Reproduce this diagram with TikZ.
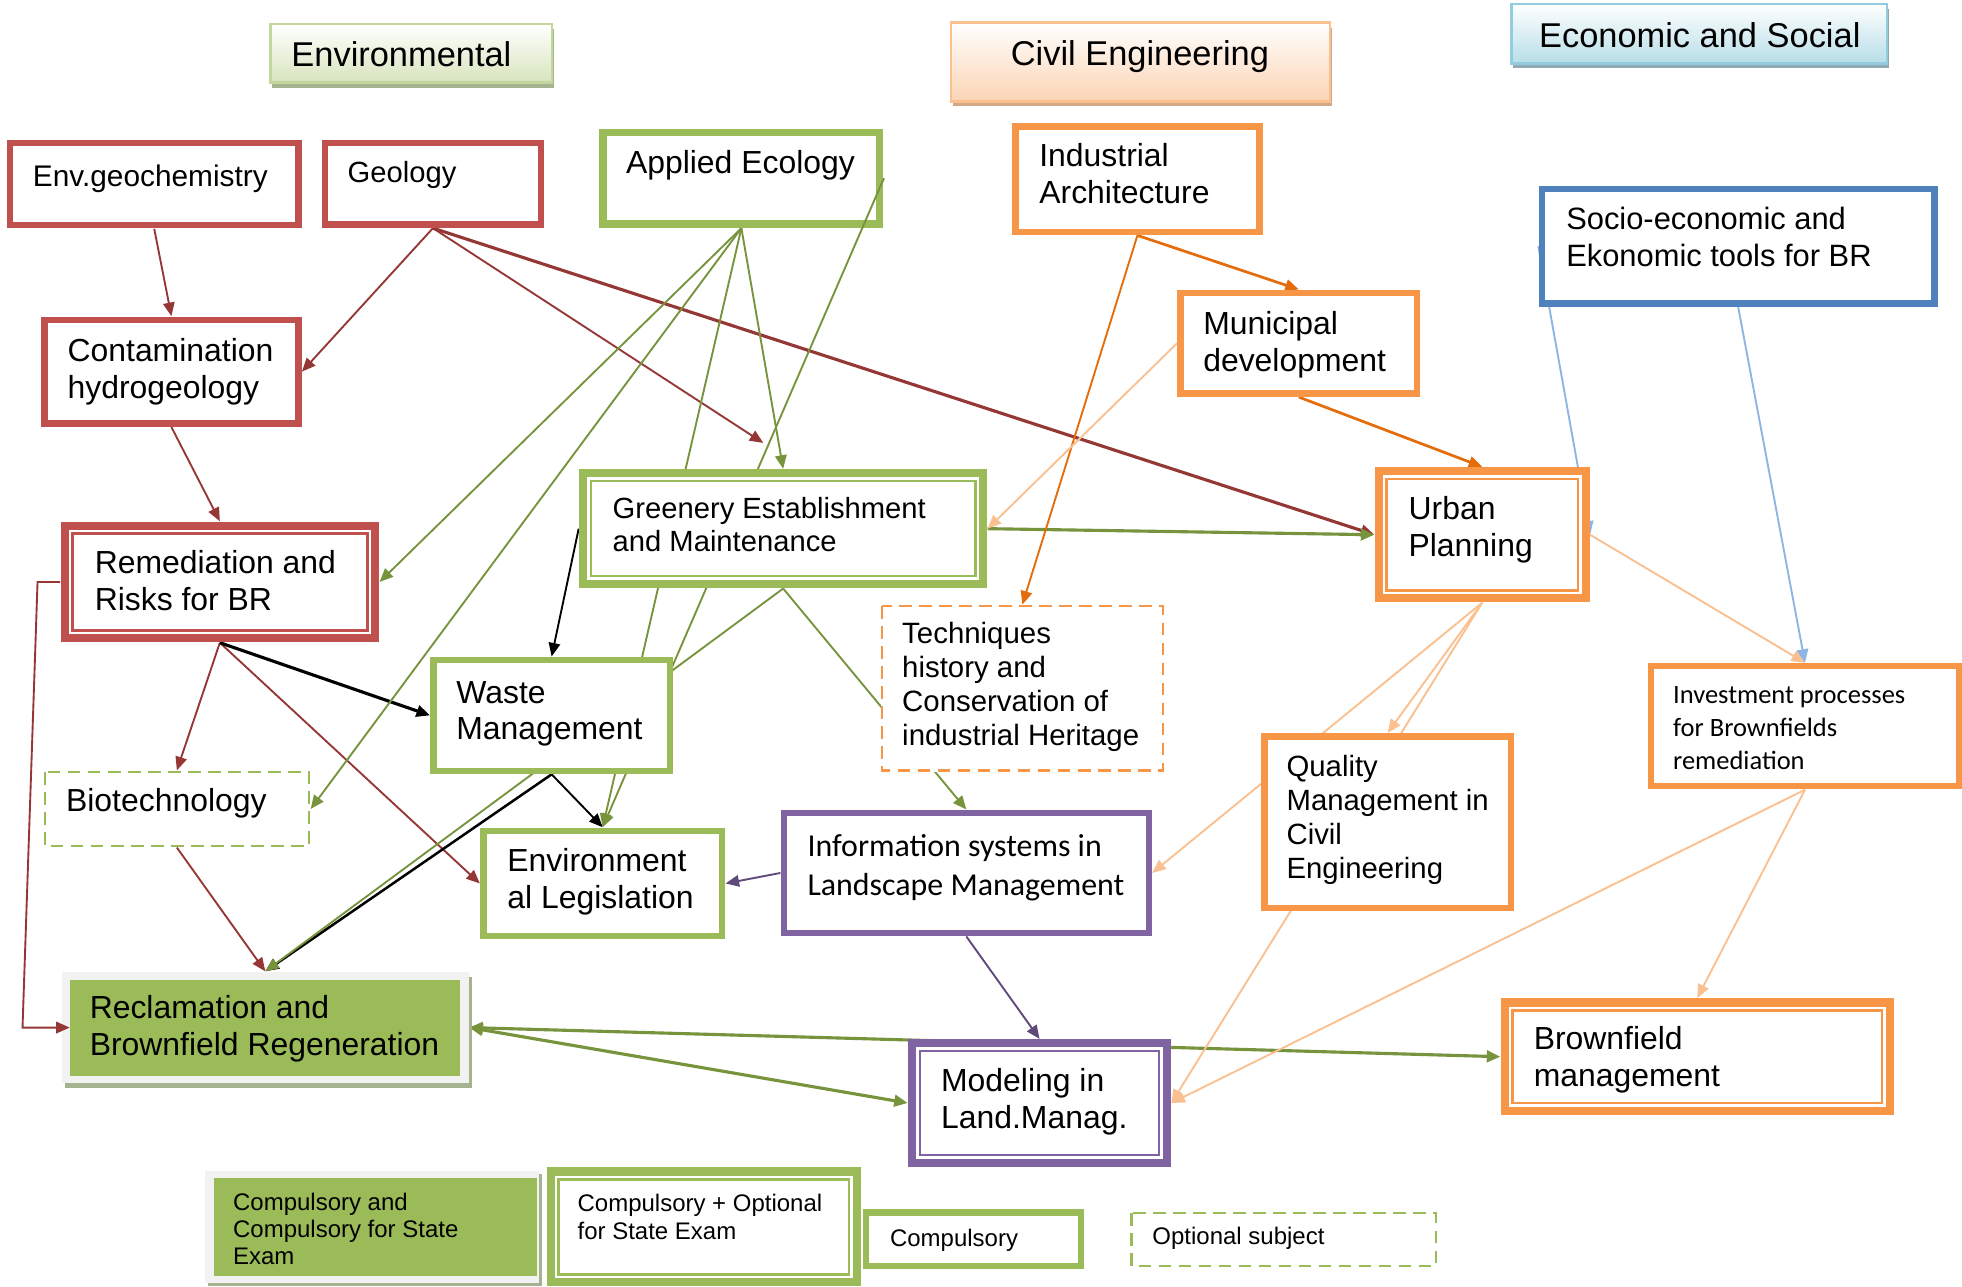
\documentclass[tikz,border=0pt]{standalone}
\usepackage{fontspec}
\setmainfont{Liberation Sans}
\newfontfamily\calibfont{Carlito}
\usetikzlibrary{arrows.meta,fit,calc}
\pgfdeclarelayer{lines}
\pgfsetlayers{lines,main}
\definecolor{cRed}{HTML}{C0504D}
\definecolor{cRedLn}{HTML}{953735}
\definecolor{cGrn}{HTML}{9BBB59}
\definecolor{cGrnLn}{HTML}{77933C}
\definecolor{cOrg}{HTML}{F79646}
\definecolor{cOrgLn}{HTML}{E46C0A}
\definecolor{cOrgLt}{HTML}{FAC090}
\definecolor{cBlu}{HTML}{4F81BD}
\definecolor{cBluLn}{HTML}{8EB4E3}
\definecolor{cPur}{HTML}{8064A2}
\definecolor{cPurLn}{HTML}{5F497A}
\definecolor{cGray}{HTML}{F2F2F2}
\definecolor{cShG}{HTML}{A6B391}
\definecolor{hEnvF}{HTML}{D7E4BD}
\definecolor{hEnvB}{HTML}{C3D69B}
\definecolor{hCivF}{HTML}{FBD4B4}
\definecolor{hCivB}{HTML}{FAC090}
\definecolor{hCivS}{HTML}{D2A888}
\definecolor{hEcoF}{HTML}{B7DEE8}
\definecolor{hEcoB}{HTML}{93CDDD}
\definecolor{hEcoS}{HTML}{93AAB4}
\newcommand\lns[1]{\begin{tabular}[t]{@{}l@{}}#1\end{tabular}}
\newcommand\fs[2]{\fontsize{#1}{#2}\selectfont}
% single border box: name,x1,y1,x2,y2,color,linewidth(units)
\newcommand\singlebox[7]{%
  \node[fit={(#2,#3)(#4,#5)}, inner sep=0pt, fill=white] (#1) {};
  \pgfmathsetmacro\lwpt{#7*0.6}%
  \draw[draw=#6, line width=\lwpt pt] ({#2+#7/2},{#3+#7/2}) rectangle ({#4-#7/2},{#5-#7/2});}
% dashed box
\newcommand\dshbox[6]{%
  \node[fit={(#2,#3)(#4,#5)}, inner sep=0pt, fill=white] (#1) {};
  \draw[draw=#6, line width=1.1pt, dash pattern=on 6pt off 3.6pt] ({#2+1},{#3+1}) rectangle ({#4-1},{#5-1});}
% double (thick-thin) box
\newcommand\dblbox[6]{%
  \node[fit={(#2,#3)(#4,#5)}, inner sep=0pt, fill=white] (#1) {};
  \draw[draw=#6, line width=3.9pt] ({#2+3.25},{#3+3.25}) rectangle ({#4-3.25},{#5-3.25});
  \draw[draw=#6, line width=1.2pt] ({#2+9.5},{#3+9.5}) rectangle ({#4-9.5},{#5-9.5});}
% header: name,x1,y1,x2,y2,fill,border,shadow
\newcommand\hdr[8]{%
  \fill[#8] ({#2+1.5},{#3+4}) rectangle ({#4+1.5},{#5+4});
  \node[fit={(#2,#3)(#4,#5)}, inner sep=0pt, top color=white, bottom color=#6, draw=#7, line width=1.2pt] (#1) {};}
\tikzset{
  tx/.style={anchor=base west, inner sep=0pt},
  mainf/.style={font=\fs{15.3}{17.6}},
  ahead/.style={-{Triangle[length=6.5pt,width=5.5pt]}},
  rl/.style={draw=cRedLn, line width=0.9pt, ahead},
  bl/.style={draw=black, line width=0.9pt, ahead},
  gl/.style={draw=cGrnLn, line width=0.9pt, ahead},
  ol/.style={draw=cOrgLn, line width=0.9pt, ahead},
  lol/.style={draw=cOrgLt, line width=0.9pt, ahead},
  bul/.style={draw=cBluLn, line width=0.9pt, ahead},
  pl/.style={draw=cPurLn, line width=0.9pt, ahead},
  heavy/.style={line width=1.5pt},
  twoway/.style={{Triangle[length=6.5pt,width=5.5pt]}-{Triangle[length=6.5pt,width=5.5pt]}}
}
\begin{document}
\begin{tikzpicture}[x=0.6pt,y=-0.6pt]
\useasboundingbox (0,0) rectangle (1568,1028.5);

% headers
\hdr{hEnv}{216}{19}{441}{66}{hEnvF}{hEnvB}{cShG}
\hdr{hCiv}{760}{18}{1063}{81}{hCivF}{hCivB}{hCivS}
\hdr{hEco}{1208}{3}{1508}{50.6}{hEcoF}{hEcoB}{hEcoS}
\node[tx, font=\fs{16.5}{19}] (thEnv) at (232.6,53.3) {Environmental};
\node[tx, font=\fs{16.5}{19}] (thCiv) at (807.5,52) {Civil Engineering};
\node[tx, font=\fs{16.5}{19}] (thEco) at (1229.7,37.8) {Economic and Social};

% boxes
\singlebox{envgeo}{5.5}{112}{241}{182.5}{cRed}{5}
\singlebox{geology}{257}{112}{435}{182}{cRed}{5}
\singlebox{appeco}{479}{103}{706}{182}{cGrn}{6}
\singlebox{contam}{33}{253}{241}{341}{cRed}{5}
\dblbox{remed}{48.4}{416.9}{303}{513.3}{cRed}
\dblbox{greenery}{462.8}{375}{789}{470}{cGrn}
\singlebox{waste}{344}{525}{537.7}{618.5}{cGrn}{5}
\dshbox{biotech}{34.7}{616}{248}{677}{cGrn}
\singlebox{envleg}{383.8}{661.4}{579.5}{750.7}{cGrn}{5}
\dshbox{techniques}{703.7}{483.5}{930.4}{616.7}{cOrg}
\singlebox{infosys}{624}{647.3}{920.5}{748}{cPur}{5}
\singlebox{indarch}{809}{98.6}{1009}{187.8}{cOrg}{5}
\singlebox{municipal}{941}{231.7}{1135}{317}{cOrg}{5}
\singlebox{socio}{1229.7}{148.6}{1548.5}{245}{cBlu}{5}
\dblbox{urban}{1098.7}{373.4}{1270.4}{481.3}{cOrg}
\singlebox{invest}{1317}{530}{1568}{630.8}{cOrg}{5}
\singlebox{quality}{1008}{586}{1210}{728}{cOrg}{5}
% reclamation (filled)
\fill[cShG] (52,780.6) rectangle (377.6,869.8);
\node[fit={(49.4,776.6)(374.6,865.8)}, inner sep=0pt, fill=cGray] (reclam) {};
\fill[cGrn] (56,783) rectangle (368,859.7);
\dblbox{modeling}{725.8}{830.6}{935.8}{932.4}{cPur}
\dblbox{brownmgmt}{1199.4}{797.9}{1513.4}{891.1}{cOrg}
% legend
\fill[cShG] (166,938.5) rectangle (433,1028);
\node[fit={(164,935.6)(431,1025.5)}, inner sep=0pt, fill=cGray] (leg1) {};
\fill[cGrn] (170.7,941.7) rectangle (429,1019.8);
\dblbox{leg2}{436.8}{933}{688}{1028}{cGrn}
\singlebox{leg3}{689.6}{966.5}{866.5}{1014.4}{cGrn}{5}
\dshbox{leg4}{903.3}{968.4}{1148.5}{1012.8}{cGrn}

% texts
\node[tx, font=\fs{14.3}{17.6}] (tEnvgeo) at (26,149.2) {Env.geochemistry};
\node[tx, font=\fs{14}{17.6}] (tGeology) at (277.5,146) {Geology};
\node[tx, mainf] (tAppeco) at (500,139) {Applied Ecology};
\node[tx, mainf] (tContam) at (53.7,289) {\lns{Contamination\\hydrogeology}};
\node[tx, mainf] (tIndarch) at (830.3,133.2) {\lns{Industrial\\Architecture}};
\node[tx, mainf] (tMunicipal) at (961.3,267.2) {\lns{Municipal\\development}};
\node[tx, font=\fs{14.8}{17.6}] (tSocio) at (1251.4,183.8) {\lns{Socio-economic and\\Ekonomic tools for BR}};
\node[tx, font=\fs{14}{16}] (tGreenery) at (489.3,414.2) {\lns{Greenery Establishment\\and Maintenance}};
\node[tx, mainf] (tRemed) at (75.4,458.2) {\lns{Remediation and\\Risks for BR}};
\node[tx, mainf] (tWaste) at (364.4,562) {\lns{Waste\\Management}};
\node[tx, mainf] (tBiotech) at (52.5,648.6) {Biotechnology};
\node[tx, mainf] (tEnvleg) at (405.2,696.6) {\lns{Environment\\al Legislation}};
\node[tx, mainf] (tUrban) at (1125.4,415.5) {\lns{Urban\\Planning}};
\node[tx, font=\fs{14.1}{16.3}] (tTech) at (720.7,514.1) {\lns{Techniques\\history and\\Conservation of\\industrial Heritage}};
\node[tx, font=\calibfont\fs{12.7}{15.7}] (tInvest) at (1336.8,562.6) {\lns{Investment processes\\for Brownfields\\remediation}};
\node[tx, font=\fs{14.06}{16.3}] (tQuality) at (1027.9,620.6) {\lns{Quality\\Management in\\Civil\\Engineering}};
\node[tx, font=\calibfont\fs{15.3}{18.4}] (tInfosys) at (645,684.6) {\lns{Information systems in\\Landscape Management}};
\node[tx, mainf] (tReclam) at (71.4,813.9) {\lns{Reclamation and\\Brownfield Regeneration}};
\node[tx, mainf] (tModeling) at (751.8,872.5) {\lns{Modeling in\\Land.Manag.}};
\node[tx, mainf] (tBrown) at (1225.4,838.6) {\lns{Brownfield\\management}};
\node[tx, font=\fs{11.5}{13.1}] (tLeg1) at (186,967) {\lns{Compulsory and\\Compulsory for State\\Exam}};
\node[tx, font=\fs{11.5}{13.1}] (tLeg2) at (461.3,968.4) {\lns{Compulsory + Optional\\for State Exam}};
\node[tx, font=\fs{11.5}{13.1}] (tLeg3) at (711,996.3) {Compulsory};
\node[tx, font=\fs{11.5}{13.1}] (tLeg4) at (920.7,994.2) {Optional subject};

\coordinate (gEnd) at (610,354);
\coordinate (elbowA) at (30,465.1);
\coordinate (elbowB) at (18,821.2);

% connectors behind boxes
\begin{pgfonlayer}{lines}
\fill[white] (0,0) rectangle (1568,1028.5);
% red
\draw[rl] (envgeo.south) -- (contam.north);
\draw[rl] (geology.south) -- (contam.east);
\draw[rl] (geology.south) -- (gEnd);
\draw[rl, heavy] (geology.south) -- (urban.west);
\draw[rl] (contam.south) -- (remed.north);
\draw[rl] (remed.south) -- (biotech.north);
\draw[rl] (remed.south) -- (envleg.west);
\draw[rl] (biotech.south) -- (reclam.north);
% black
\draw[bl] (greenery.west) -- (waste.north);
\draw[bl, heavy] (remed.south) -- (waste.west);
\draw[bl] (waste.south) -- (envleg.north);
\draw[bl, line width=1.2pt] (waste.south) -- (reclam.north);
% green
\draw[gl] (appeco.south) -- (remed.east);
\draw[gl] (appeco.south) -- (biotech.east);
\draw[gl] (appeco.south) -- (greenery.north);
\draw[gl] (appeco.south) -- (envleg.north);
\draw[gl] (appeco.east) -- (envleg.north);
\draw[gl] (greenery.south) -- (reclam.north);
\draw[gl] (greenery.south) -- (infosys.north);
\draw[gl, heavy] (greenery.east) -- (urban.west);
\draw[gl, heavy, twoway] (reclam.east) -- (brownmgmt.west);
\draw[gl, heavy, twoway] (reclam.east) -- (modeling.west);
% orange
\draw[ol, line width=1.3pt] (indarch.south) -- (municipal.north);
\draw[ol] (indarch.south) -- (techniques.north);
\draw[ol, line width=1.3pt] (municipal.south) -- (urban.north);
\draw[lol] (municipal.west) -- (greenery.east);
\draw[lol] (urban.south) -- (quality.north);
\draw[lol] (urban.south) -- (infosys.east);
\draw[lol] (urban.south) -- (modeling.east);
\draw[lol] (urban.east) -- (invest.north);
\draw[lol] (invest.south) -- (brownmgmt.north);
\draw[lol] (invest.south) -- (modeling.east);
% blue
\draw[bul] (socio.south) -- (invest.north);
\draw[bul] (socio.west) -- (urban.east);
% purple
\draw[pl] (infosys.west) -- (envleg.east);
\draw[pl] (infosys.south) -- (modeling.north);
\end{pgfonlayer}
% parts drawn over boxes
\draw[draw=cGrnLn, line width=0.9pt] (appeco.east) -- ($(appeco.east)!0.0761!(envleg.north)$);
\draw[rl] (remed.west) -- (elbowA) -- (elbowB) -- ([xshift=4pt]reclam.west);
\end{tikzpicture}
\end{document}
